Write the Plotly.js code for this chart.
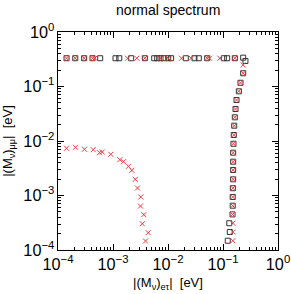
<!DOCTYPE html>
<html><head><meta charset="utf-8">
<script src="https://cdn.plot.ly/plotly-3.0.1.min.js"></script>
<style>html,body{margin:0;padding:0;background:#fff;}#plot{width:291px;height:294px;}</style>
</head><body><div id="plot"></div>
<script>
// black open squares
const sqX = [1.43e-4, 2.06e-4, 2.99e-4, 4.24e-4, 5.85e-4, 1.11e-3, 1.30e-3, 2.14e-3, 3.79e-3, 5.61e-3, 6.36e-3, 7.31e-3, 8.39e-3, 1.01e-2, 1.14e-2, 2.11e-2, 3.03e-2, 3.63e-2, 5.16e-2, 0.1035, 0.119, 0.164, 0.233,
  0.256, 0.233, 0.208, 0.194, 0.176, 0.169, 0.164, 0.160, 0.157, 0.155, 0.153, 0.153, 0.153, 0.153, 0.151, 0.150, 0.150, 0.149, 0.130, 0.133, 0.122];
const sqY = [0.33, 0.33, 0.33, 0.33, 0.33, 0.33, 0.33, 0.33, 0.33, 0.33, 0.33, 0.33, 0.33, 0.33, 0.33, 0.33, 0.33, 0.33, 0.33, 0.33, 0.33, 0.33, 0.338,
  0.294, 0.175, 0.117, 0.0816, 0.0565, 0.0386, 0.0272, 0.0191, 0.0129, 0.0089, 0.0061, 0.00417, 0.00294, 0.00198, 0.00136, 0.00094, 0.00065, 0.00045, 0.00031, 0.000214, 0.000148];
// red crosses
const xsX = [1.43e-4, 2.06e-4, 2.99e-4, 4.24e-4, 4.66e-4, 1.84e-3, 2.71e-3, 3.79e-3, 7.31e-3, 1.01e-2, 1.76e-2, 2.64e-2, 5.16e-2, 5.68e-2, 8.75e-2, 0.164,
  0.233, 0.233, 0.208, 0.194, 0.176, 0.169, 0.164, 0.160, 0.157, 0.155, 0.153, 0.153, 0.153, 0.153, 0.151, 0.150, 0.150, 0.149, 0.151, 0.151, 0.151,
  1.43e-4, 2.08e-4, 3.03e-4, 4.37e-4, 5.69e-4, 6.37e-4, 9.12e-4, 1.33e-3, 1.55e-3, 1.91e-3, 2.20e-3, 2.54e-3, 2.79e-3, 3.20e-3, 3.16e-3, 3.63e-3, 3.40e-3, 4.37e-3, 3.90e-3];
const xsY = [0.33, 0.33, 0.33, 0.33, 0.33, 0.33, 0.33, 0.33, 0.33, 0.33, 0.33, 0.33, 0.33, 0.33, 0.33, 0.33,
  0.248, 0.175, 0.117, 0.0816, 0.0565, 0.0386, 0.0272, 0.0191, 0.0129, 0.0089, 0.0061, 0.00417, 0.00294, 0.00198, 0.00136, 0.00094, 0.00065, 0.00045, 0.00031, 0.000214, 0.000148,
  7.35e-3, 7.66e-3, 7.05e-3, 6.92e-3, 6.10e-3, 6.28e-3, 5.70e-3, 4.54e-3, 4.17e-3, 3.43e-3, 2.90e-3, 1.98e-3, 1.37e-3, 9.4e-4, 6.4e-4, 4.45e-4, 3.04e-4, 2.08e-4, 1.46e-4];

const font = {family: 'Liberation Sans, Arial, sans-serif', color: '#000'};
const axisBase = {
  type: 'log', range: [-4, 0], dtick: 1, exponentformat: 'power',
  labelalias: {'1': '10<sup>0</sup>'},
  showline: true, linecolor: '#000', linewidth: 1, mirror: 'ticks',
  ticks: 'inside', ticklen: 6, tickcolor: '#000', tickwidth: 1,
  minor: {ticks: 'inside', ticklen: 3, dtick: 'D1', tickcolor: '#000', showgrid: false},
  showgrid: false, zeroline: false, tickfont: {...font, size: 13}, automargin: false
};
const data = [
  {x: sqX, y: sqY, mode: 'markers', type: 'scatter',
   marker: {symbol: 'square-open', size: 5, color: '#333', line: {width: 1}}},
  {x: xsX, y: xsY, mode: 'markers', type: 'scatter',
   marker: {symbol: 'x-thin', size: 5, color: 'rgb(235,60,60)', line: {width: 1, color: 'rgb(235,60,60)'}}}
];
const layout = {
  width: 291, height: 294, showlegend: false,
  paper_bgcolor: '#fff', plot_bgcolor: '#fff',
  margin: {l: 58, r: 13, t: 32, b: 44},
  font: font,
  title: {text: 'normal spectrum', font: {...font, size: 14}, x: 0.578, xanchor: 'center', y: 0.967, yanchor: 'middle'},
  xaxis: {...axisBase, title: {text: '|(M<sub>ν</sub>)<sub>eτ</sub>|  [eV]', font: {...font, size: 13}, standoff: 6}},
  yaxis: {...axisBase, title: {text: '|(M<sub>ν</sub>)<sub>μμ</sub>|  [eV]', font: {...font, size: 13}, standoff: 8}}
};
Plotly.newPlot('plot', data, layout, {displayModeBar: false, staticPlot: true});
</script></body></html>
